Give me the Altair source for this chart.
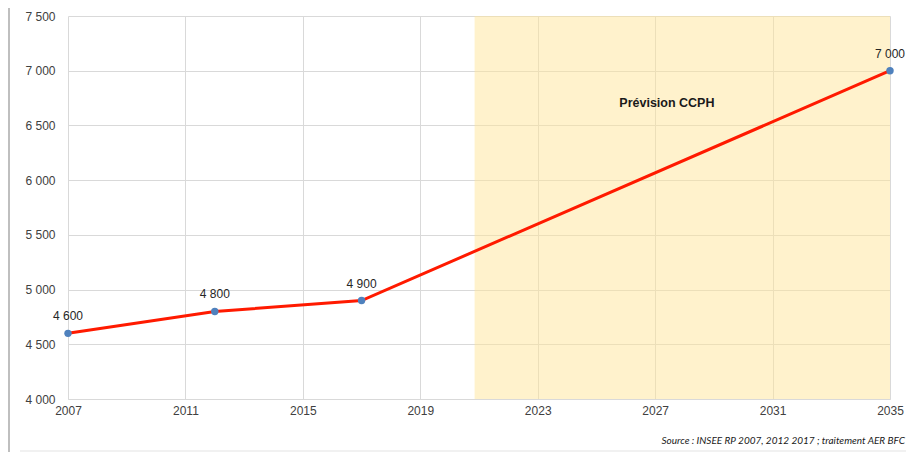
import altair as alt
import pandas as pd

years = [2007, 2012, 2017, 2035]
values = [4600, 4800, 4900, 7000]
x_ticks = [2007, 2011, 2015, 2019, 2023, 2027, 2031, 2035]
y_ticks = [4000, 4500, 5000, 5500, 6000, 6500, 7000, 7500]
forecast_start = [2020.85]
forecast_end = [2035]
annot_text = ["Prévision CCPH"]
annot_year = [2027.4]
annot_value = [6705]
source_text = ["Source : INSEE RP 2007, 2012 2017 ; traitement AER BFC"]

W, H = 822, 383
FONT = "Liberation Sans Narrow, Arial Narrow, Liberation Sans, sans-serif"

df = pd.DataFrame({"year": years, "value": values})
shade_df = pd.DataFrame({"start": forecast_start, "end": forecast_end})
annot_df = pd.DataFrame({"year": annot_year, "value": annot_value, "label": annot_text})
src_df = pd.DataFrame({"label": source_text})

xscale = alt.Scale(domain=[2007, 2035], nice=False, zero=False)
yscale = alt.Scale(domain=[4000, 7500], nice=False, zero=False)

xaxis = alt.Axis(values=x_ticks, format="d", title=None, grid=True, gridColor="#d9d9d9",
                 domain=True, domainColor="#d9d9d9", ticks=False, labelPadding=6,
                 labelFlush=False, labelFont=FONT, labelFontSize=12, labelColor="#404040")
yaxis = alt.Axis(values=y_ticks, title=None, grid=True, gridColor="#d9d9d9", domain=False,
                 ticks=False, labelPadding=13, labelFont=FONT, labelFontSize=12,
                 labelColor="#404040",
                 labelExpr="replace(format(datum.value, ','), ',', ' ')")

base = alt.Chart(df)

shade = alt.Chart(shade_df).mark_rect(color="#ffe699", opacity=0.5).encode(
    x=alt.X("start:Q", scale=xscale, axis=xaxis),
    x2="end:Q",
    y=alt.value(0),
    y2=alt.value(H),
)

line = base.mark_line(color="#ff1a00", strokeWidth=3).encode(
    x=alt.X("year:Q", scale=xscale, axis=xaxis),
    y=alt.Y("value:Q", scale=yscale, axis=yaxis),
)

points = base.mark_circle(color="#4f81bd", size=55, opacity=1).encode(
    x=alt.X("year:Q", scale=xscale),
    y=alt.Y("value:Q", scale=yscale),
)

labels = base.transform_calculate(
    lab="replace(format(datum.value, ','), ',', ' ')"
).mark_text(dy=-17, font=FONT, fontSize=12, color="#262626").encode(
    x=alt.X("year:Q", scale=xscale),
    y=alt.Y("value:Q", scale=yscale),
    text="lab:N",
)

annot = alt.Chart(annot_df).mark_text(font=FONT, fontSize=12.5, fontWeight="bold",
                                      color="#1a1a1a").encode(
    x=alt.X("year:Q", scale=xscale),
    y=alt.Y("value:Q", scale=yscale),
    text="label:N",
)

source = alt.Chart(src_df).mark_text(font="Lato, Open Sans, sans-serif", fontStyle="italic",
                                     fontSize=10, align="right", color="#1a1a1a").encode(
    x=alt.value(837), y=alt.value(425), text="label:N"
)

left_rule = alt.Chart(src_df).mark_rule(color="#bfbfbf", strokeWidth=2).encode(
    x=alt.value(-59), y=alt.value(-8), y2=alt.value(436)
)
bottom_rule = alt.Chart(src_df).mark_rule(color="#e3e3e3", strokeWidth=1).encode(
    x=alt.value(-48), x2=alt.value(838), y=alt.value(435)
)

chart = alt.layer(shade, line, points, labels, annot, source, left_rule, bottom_rule).properties(
    width=W, height=H,
    autosize=alt.AutoSizeParams(type="none"),
    padding={"left": 60, "top": 8, "right": 16, "bottom": 53},
).configure_view(stroke=None)

chart.save("out.html", embed_options={"renderer": "svg", "actions": False})
